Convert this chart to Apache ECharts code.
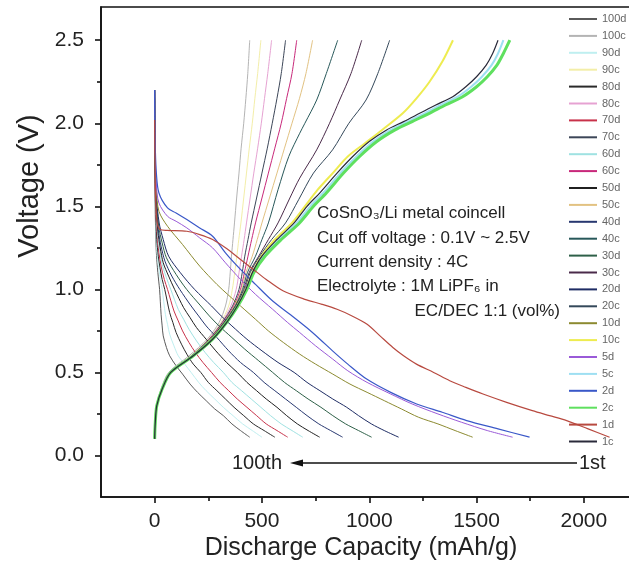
<!DOCTYPE html>
<html><head><meta charset="utf-8">
<script src="https://cdn.jsdelivr.net/npm/echarts@6/dist/echarts.min.js"></script>
<style>html,body{margin:0;padding:0;background:#fff}#c{width:629px;height:585px}</style>
</head><body><div id="c"></div>
<script>
// ---- legend / series names (in legend order) ----
const seriesNames = ['100d','100c','90d','90c','80d','80c','70d','70c','60d','60c','50d','50c','40d','40c','30d','30c','20d','20c','10d','10c','5d','5c','2d','2c','1d','1c'];
const seriesColors = ['#5a5a5a','#b4b4b4','#bfeff0','#f3eea8','#2a2a2a','#e6a2d2','#c8324a','#3c4658','#9fe2e2','#c8287a','#202020','#e2c282','#283870','#28585a','#2e6048','#4a2a4a','#1e2c64','#34485a','#8c8a30','#eeec50','#9a5ad8','#9edff2','#3a58c8','#5fe05f','#b84a40','#2a2a3a'];
const seriesWidths = [1,1,1,1,1,1,1,1,1,1,1,1,1,1,1,1,1,1,1,2,1,2,1.2,3,1.2,1.2];

// ---- axis ticks / labels ----
const xLabelValues = [0,500,1000,1500,2000];
const xMinorTicks = [250,750,1250,1750];
const yLabelValues = [0,0.5,1.0,1.5,2.0,2.5];
const yMinorTicks = [0.25,0.75,1.25,1.75,2.25];

// ---- discharge curves [capacity mAh/g, voltage V] ----
const d1 = [[0,2.02],[1,1.85],[3,1.65],[6,1.5],[12,1.4],[25,1.36],[60,1.355],[150,1.35],[210,1.33],[270,1.3],[330,1.25],[400,1.18],[460,1.12],[520,1.06],[600,0.99],[700,0.94],[780,0.91],[850,0.88],[920,0.84],[990,0.79],[1050,0.72],[1110,0.65],[1160,0.6],[1220,0.55],[1300,0.5],[1375,0.45],[1450,0.41],[1530,0.37],[1640,0.32],[1760,0.27],[1840,0.24],[1920,0.21],[2020,0.16],[2120,0.11]];
const d2 = [[0,2.2],[1,2.0],[3,1.85],[8,1.7],[20,1.58],[60,1.49],[100,1.46],[150,1.42],[210,1.37],[270,1.32],[330,1.22],[400,1.12],[470,1.03],[550,0.93],[630,0.85],[708,0.77],[770,0.7],[829,0.63],[900,0.55],[988,0.46],[1100,0.38],[1221,0.31],[1340,0.26],[1454,0.21],[1600,0.16],[1747,0.11]];
const d5 = [[0,2.2],[1,1.95],[3,1.8],[8,1.63],[20,1.52],[60,1.44],[100,1.41],[150,1.37],[210,1.31],[270,1.25],[330,1.16],[400,1.06],[470,0.97],[550,0.88],[620,0.8],[676,0.74],[750,0.66],[830,0.58],[900,0.51],[990,0.44],[1100,0.37],[1200,0.31],[1320,0.25],[1430,0.2],[1550,0.15],[1668,0.11]];
const d10 = [[0,2.2],[1,1.95],[3,1.75],[8,1.6],[20,1.47],[60,1.38],[130,1.27],[210,1.14],[290,1.03],[340,0.97],[400,0.9],[470,0.82],[530,0.75],[600,0.68],[676,0.61],[750,0.55],[830,0.49],[910,0.43],[990,0.38],[1070,0.33],[1150,0.28],[1230,0.23],[1320,0.19],[1400,0.15],[1482,0.11]];
const d20 = [[0,2.2],[1,1.95],[3,1.75],[7,1.57],[21,1.4],[40,1.3],[65,1.2],[120,1.1],[186,1.0],[265,0.9],[310,0.84],[360,0.78],[430,0.7],[500,0.63],[575,0.56],[650,0.5],[710,0.44],[770,0.39],[830,0.34],[895,0.29],[950,0.24],[1010,0.19],[1070,0.15],[1137,0.11]];
const d30 = [[0,2.2],[1,1.93],[3,1.73],[6,1.56],[19,1.38],[35,1.28],[55,1.19],[100,1.09],[149,1.0],[215,0.9],[255,0.84],[300,0.78],[360,0.71],[420,0.64],[485,0.57],[550,0.5],[605,0.44],[660,0.39],[715,0.34],[775,0.29],[830,0.24],[890,0.19],[950,0.15],[1011,0.11]];
const d40 = [[0,2.2],[1,1.92],[3,1.72],[6,1.55],[17,1.36],[30,1.26],[48,1.17],[80,1.08],[117,1.0],[170,0.9],[205,0.84],[240,0.78],[290,0.71],[345,0.63],[400,0.56],[460,0.5],[510,0.44],[560,0.39],[610,0.34],[660,0.29],[710,0.24],[765,0.19],[820,0.15],[876,0.11]];
const d50 = [[0,2.2],[1,1.92],[3,1.7],[5,1.54],[15,1.35],[26,1.25],[40,1.16],[65,1.08],[93,1.0],[135,0.89],[165,0.83],[195,0.77],[240,0.7],[285,0.63],[335,0.56],[385,0.5],[430,0.44],[475,0.39],[520,0.34],[570,0.29],[615,0.24],[665,0.19],[715,0.15],[769,0.11]];
const d60 = [[0,2.2],[1,1.9],[3,1.68],[5,1.52],[14,1.33],[24,1.23],[35,1.15],[55,1.07],[75,1.0],[110,0.88],[135,0.82],[160,0.76],[195,0.69],[235,0.62],[275,0.56],[320,0.5],[360,0.44],[405,0.39],[450,0.34],[495,0.29],[540,0.24],[590,0.19],[640,0.15],[690,0.11]];
const d70 = [[0,2.2],[1,1.9],[2,1.7],[4,1.52],[12,1.32],[20,1.22],[30,1.14],[45,1.06],[60,1.0],[90,0.87],[110,0.81],[130,0.75],[160,0.68],[190,0.62],[225,0.56],[265,0.5],[305,0.44],[345,0.39],[385,0.34],[430,0.29],[475,0.24],[520,0.19],[570,0.15],[620,0.11]];
const d80 = [[0,2.2],[1,1.88],[2,1.68],[4,1.5],[10,1.3],[17,1.2],[25,1.13],[35,1.06],[47,1.0],[70,0.86],[85,0.8],[100,0.74],[125,0.67],[150,0.61],[180,0.55],[215,0.5],[250,0.44],[290,0.39],[330,0.34],[370,0.29],[415,0.24],[460,0.19],[510,0.15],[560,0.11]];
const d90 = [[0,2.15],[1,1.85],[2,1.65],[3,1.5],[8,1.28],[13,1.19],[20,1.12],[27,1.06],[35,1.0],[50,0.85],[60,0.79],[70,0.73],[90,0.66],[110,0.6],[140,0.55],[170,0.5],[205,0.44],[240,0.39],[280,0.34],[320,0.29],[365,0.24],[410,0.19],[455,0.15],[500,0.11]];
const d100 = [[0,2.15],[1,1.75],[2,1.58],[3,1.45],[7,1.25],[11,1.16],[15,1.1],[19,1.05],[23,1.0],[30,0.85],[35,0.78],[40,0.72],[55,0.65],[70,0.6],[100,0.54],[130,0.49],[165,0.43],[200,0.38],[240,0.33],[280,0.28],[320,0.24],[360,0.19],[400,0.15],[443,0.11]];

// ---- charge curves [capacity mAh/g, voltage V] ----
const c1 = [[0,0.1],[3,0.2],[10,0.3],[35,0.4],[75,0.5],[180,0.6],[270,0.7],[335,0.8],[385,0.9],[425,1.0],[455,1.1],[500,1.2],[570,1.3],[650,1.4],[710,1.5],[769,1.58],[850,1.7],[923,1.8],[1000,1.89],[1081,1.96],[1160,2.01],[1235,2.06],[1310,2.11],[1389,2.16],[1450,2.22],[1500,2.28],[1545,2.35],[1575,2.42],[1600,2.5]];
const c2 = [[0,0.1],[3,0.2],[10,0.3],[35,0.4],[75,0.5],[180,0.6],[270,0.7],[335,0.8],[388,0.9],[430,1.0],[462,1.1],[515,1.2],[590,1.3],[675,1.4],[740,1.5],[800,1.58],[880,1.7],[955,1.8],[1035,1.89],[1120,1.96],[1200,2.01],[1280,2.06],[1355,2.11],[1435,2.16],[1500,2.22],[1550,2.28],[1595,2.35],[1625,2.42],[1655,2.5]];
const c5 = [[0,0.1],[3,0.2],[10,0.3],[35,0.4],[75,0.5],[180,0.6],[270,0.7],[335,0.8],[386,0.9],[428,1.0],[458,1.1],[508,1.2],[580,1.3],[662,1.4],[725,1.5],[785,1.58],[865,1.7],[940,1.8],[1018,1.89],[1100,1.96],[1180,2.01],[1258,2.06],[1333,2.11],[1412,2.16],[1475,2.22],[1525,2.28],[1570,2.35],[1600,2.42],[1625,2.5]];
const c10 = [[0,0.1],[3,0.2],[10,0.3],[35,0.4],[75,0.5],[180,0.6],[268,0.7],[333,0.8],[385,0.9],[425,1.0],[455,1.1],[498,1.2],[560,1.3],[640,1.4],[700,1.5],[760,1.6],[830,1.7],[900,1.8],[980,1.88],[1060,1.96],[1156,2.06],[1220,2.15],[1281,2.25],[1340,2.37],[1390,2.5]];
const c20 = [[0,0.1],[3,0.2],[10,0.3],[35,0.4],[75,0.5],[180,0.6],[265,0.7],[328,0.8],[380,0.9],[420,1.0],[445,1.1],[490,1.2],[545,1.3],[610,1.4],[671,1.54],[740,1.7],[829,1.84],[905,2.0],[985,2.14],[1040,2.3],[1095,2.5]];
const c30 = [[0,0.1],[3,0.2],[10,0.3],[35,0.4],[75,0.5],[178,0.6],[262,0.7],[325,0.8],[378,0.9],[415,1.0],[440,1.1],[485,1.2],[530,1.3],[575,1.4],[630,1.55],[676,1.67],[755,1.84],[815,2.0],[862,2.14],[915,2.3],[965,2.5]];
const c40 = [[0,0.1],[3,0.2],[10,0.3],[34,0.4],[74,0.5],[176,0.6],[260,0.7],[322,0.8],[375,0.9],[410,1.0],[432,1.1],[470,1.2],[500,1.3],[530,1.4],[575,1.6],[625,1.8],[676,1.94],[700,2.0],[755,2.14],[800,2.3],[853,2.5]];
const c50 = [[0,0.1],[3,0.2],[10,0.3],[34,0.4],[73,0.5],[175,0.6],[258,0.7],[320,0.8],[372,0.9],[405,1.0],[425,1.1],[455,1.2],[478,1.3],[500,1.4],[535,1.55],[570,1.7],[605,1.85],[640,2.0],[675,2.15],[705,2.3],[736,2.5]];
const c60 = [[0,0.1],[3,0.2],[10,0.3],[34,0.4],[72,0.5],[174,0.6],[256,0.7],[318,0.8],[368,0.9],[400,1.0],[418,1.1],[435,1.2],[452,1.3],[470,1.4],[500,1.55],[530,1.7],[560,1.85],[590,2.0],[615,2.15],[640,2.3],[662,2.5]];
const c70 = [[0,0.1],[3,0.2],[10,0.3],[34,0.4],[72,0.5],[172,0.6],[254,0.7],[315,0.8],[363,0.9],[393,1.0],[408,1.1],[420,1.2],[435,1.3],[450,1.4],[475,1.55],[500,1.7],[525,1.85],[548,2.0],[570,2.15],[590,2.3],[610,2.5]];
const c80 = [[0,0.1],[3,0.2],[10,0.3],[33,0.4],[71,0.5],[170,0.6],[252,0.7],[312,0.8],[355,0.9],[380,1.0],[393,1.1],[405,1.2],[417,1.3],[428,1.4],[445,1.55],[462,1.7],[480,1.85],[497,2.0],[512,2.15],[527,2.3],[545,2.5]];
const c90 = [[0,0.1],[3,0.2],[10,0.3],[33,0.4],[70,0.5],[168,0.6],[250,0.7],[308,0.8],[345,0.9],[362,1.0],[373,1.1],[383,1.2],[392,1.3],[402,1.4],[415,1.55],[428,1.7],[441,1.85],[455,2.0],[467,2.15],[480,2.3],[495,2.5]];
const c100 = [[0,0.1],[3,0.2],[9,0.3],[30,0.4],[65,0.5],[160,0.6],[245,0.7],[300,0.8],[330,0.9],[345,1.0],[352,1.1],[358,1.2],[365,1.3],[372,1.4],[382,1.55],[393,1.7],[403,1.85],[415,2.0],[425,2.15],[434,2.3],[443,2.5]];

const curveData = {
  '100d': d100, '100c': c100, '90d': d90, '90c': c90, '80d': d80, '80c': c80,
  '70d': d70, '70c': c70, '60d': d60, '60c': c60, '50d': d50, '50c': c50,
  '40d': d40, '40c': c40, '30d': d30, '30c': c30, '20d': d20, '20c': c20,
  '10d': d10, '10c': c10, '5d': d5, '5c': c5, '2d': d2, '2c': c2, '1d': d1, '1c': c1
};

const FONT = '"Liberation Sans", Arial, sans-serif';
const chart = echarts.init(document.getElementById('c'), null, {renderer: 'canvas'});

const series = seriesNames.map((n, i) => ({
  name: n,
  type: 'line',
  data: curveData[n],
  symbol: 'none',
  showSymbol: false,
  smooth: 0.3,
  animation: false,
  silent: true,
  color: seriesColors[i],
  lineStyle: {color: seriesColors[i], width: seriesWidths[i]},
  xAxisIndex: 0,
  yAxisIndex: 0
}));

const axisLineStyle = {color: '#111', width: 1.6};

chart.setOption({
  animation: false,
  backgroundColor: '#fff',
  grid: {left: 101, top: 7, right: -8.5, bottom: 88, show: true, borderColor: '#111', borderWidth: 1.6, containLabel: false, outerBoundsMode: 'none'},
  legend: {
    data: seriesNames,
    orient: 'vertical',
    left: 568,
    top: 13,
    padding: 0,
    itemWidth: 28,
    itemHeight: 12,
    itemGap: 4.9,
    itemStyle: {opacity: 0},
    textStyle: {fontSize: 11, color: '#666', fontFamily: FONT, lineHeight: 12},
    selectedMode: false
  },
  xAxis: [
    {type: 'value', min: -250, max: 2250, position: 'bottom',
     axisLine: {show: true, onZero: false, lineStyle: axisLineStyle},
     axisTick: {show: true, inside: false, length: 6, lineStyle: axisLineStyle, customValues: xLabelValues},
     axisLabel: {show: true, margin: 14, fontSize: 21, color: '#222', fontFamily: FONT, customValues: xLabelValues, formatter: v => String(v)},
     splitLine: {show: false}},
    {type: 'value', min: -250, max: 2250, position: 'bottom', gridIndex: 0,
     axisLine: {show: false, onZero: false},
     axisTick: {show: true, inside: false, length: 4, lineStyle: axisLineStyle, customValues: xMinorTicks},
     axisLabel: {show: false},
     splitLine: {show: false}}
  ],
  yAxis: [
    {type: 'value', min: -0.25, max: 2.7, position: 'left',
     axisLine: {show: true, onZero: false, lineStyle: axisLineStyle},
     axisTick: {show: true, inside: false, length: 6, lineStyle: axisLineStyle, customValues: yLabelValues},
     axisLabel: {show: true, margin: 17, fontSize: 21, color: '#222', fontFamily: FONT, customValues: yLabelValues, formatter: v => v.toFixed(1)},
     splitLine: {show: false}},
    {type: 'value', min: -0.25, max: 2.7, position: 'left', gridIndex: 0,
     axisLine: {show: false, onZero: false},
     axisTick: {show: true, inside: false, length: 4, lineStyle: axisLineStyle, customValues: yMinorTicks},
     axisLabel: {show: false},
     splitLine: {show: false}}
  ],
  series: series,
  graphic: [
    {type: 'text', x: 30, y: 186, rotation: Math.PI / 2,
     style: {text: 'Voltage (V)', font: '29px ' + FONT, fill: '#222', align: 'center', verticalAlign: 'middle'}},
    {type: 'text', x: 361, y: 548,
     style: {text: 'Discharge Capacity (mAh/g)', font: '25px ' + FONT, fill: '#222', align: 'center', verticalAlign: 'middle'}},
    {type: 'text', x: 317, y: 213,
     style: {text: 'CoSnO\u2083/Li metal coincell', font: '17px ' + FONT, fill: '#222', align: 'left', verticalAlign: 'middle'}},
    {type: 'text', x: 317, y: 238,
     style: {text: 'Cut off voltage : 0.1V ~ 2.5V', font: '17px ' + FONT, fill: '#222', align: 'left', verticalAlign: 'middle'}},
    {type: 'text', x: 317, y: 262,
     style: {text: 'Current density : 4C', font: '17px ' + FONT, fill: '#222', align: 'left', verticalAlign: 'middle'}},
    {type: 'text', x: 317, y: 286,
     style: {text: 'Electrolyte : 1M LiPF\u2086 in', font: '17px ' + FONT, fill: '#222', align: 'left', verticalAlign: 'middle'}},
    {type: 'text', x: 560, y: 311,
     style: {text: 'EC/DEC 1:1 (vol%)', font: '17px ' + FONT, fill: '#222', align: 'right', verticalAlign: 'middle'}},
    {type: 'line', shape: {x1: 300, y1: 463, x2: 577, y2: 463}, style: {stroke: '#111', lineWidth: 1.4}},
    {type: 'polygon', shape: {points: [[290, 463], [303, 459.5], [303, 466.5]]}, style: {fill: '#111'}},
    {type: 'text', x: 232, y: 463,
     style: {text: '100th', font: '20px ' + FONT, fill: '#222', align: 'left', verticalAlign: 'middle'}},
    {type: 'text', x: 579, y: 463,
     style: {text: '1st', font: '20px ' + FONT, fill: '#222', align: 'left', verticalAlign: 'middle'}}
  ]
});
</script>
</body></html>
